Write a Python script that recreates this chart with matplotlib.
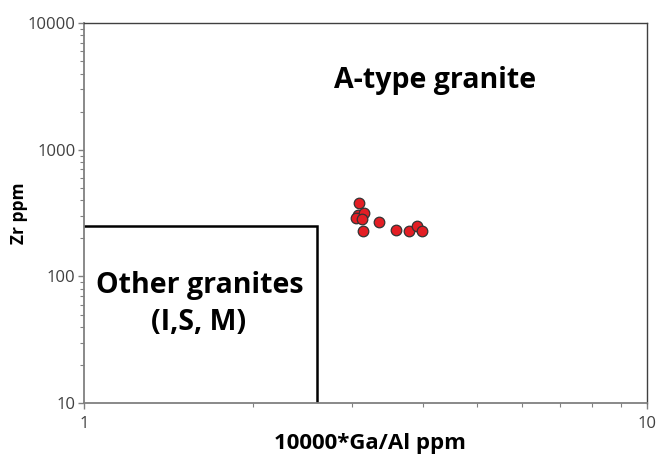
import matplotlib.pyplot as plt
from matplotlib.ticker import FixedLocator, LogLocator, NullFormatter

# Whalen et al. discrimination: 10000*Ga/Al vs Zr
GA_AL = [3.08, 3.07, 3.14, 3.05, 3.12, 3.13, 3.34, 3.58, 3.78, 3.91, 3.99]
ZR = [381, 305, 315, 290, 284, 228, 270, 232, 228, 251, 228]

BOX_GA_AL = 2.6
BOX_ZR = 250

X_TICKS = [1, 10]
X_LABELS = ["1", "10"]
Y_TICKS = [10, 100, 1000, 10000]
Y_LABELS = ["10", "100", "1000", "10000"]

AXIS_GREY = "#808080"
TEXT_GREY = "#404040"
FONT = ["Open Sans", "DejaVu Sans"]

fig = plt.figure(figsize=(6.6, 4.55), dpi=100)
ax = fig.add_axes([0.127, 0.114, 0.853, 0.835])

ax.set_xscale("log")
ax.set_yscale("log")
ax.set_xlim(1, 10)
ax.set_ylim(10, 10000)

# field boundary
ax.plot([1, BOX_GA_AL, BOX_GA_AL], [BOX_ZR, BOX_ZR, 10], color="black", lw=1.8,
        solid_joinstyle="miter", zorder=2)

ax.scatter(GA_AL, ZR, s=58, color="#e31e24", edgecolor="#333333", linewidth=0.9,
           zorder=3)

# field names, placed by baseline
ax.text(4.21, 3070, "A-type granite", ha="center", va="baseline",
        fontsize=20.5, fontweight="bold", family=FONT)
ax.text(1.61, 74, "Other granites", ha="center", va="baseline",
        fontsize=20.5, fontweight="bold", family=FONT)
ax.text(1.60, 37.7, "(I,S, M)", ha="center", va="baseline",
        fontsize=20.5, fontweight="bold", family=FONT)

ax.xaxis.set_major_locator(FixedLocator(X_TICKS))
ax.set_xticklabels(X_LABELS)
ax.yaxis.set_major_locator(FixedLocator(Y_TICKS))
ax.set_yticklabels(Y_LABELS)
ax.xaxis.set_minor_locator(LogLocator(base=10, subs=range(2, 10)))
ax.yaxis.set_minor_locator(LogLocator(base=10, subs=range(2, 10)))
ax.xaxis.set_minor_formatter(NullFormatter())
ax.yaxis.set_minor_formatter(NullFormatter())

ax.tick_params(which="major", direction="out", length=4, width=1, color=AXIS_GREY,
               labelcolor=TEXT_GREY, labelsize=12, pad=2)
ax.tick_params(axis="x", which="major", pad=5)
ax.tick_params(which="minor", direction="out", length=3, width=0.8, color=AXIS_GREY)
for lab in ax.get_xticklabels() + ax.get_yticklabels():
    lab.set_family(FONT)

for side in ("left", "bottom"):
    ax.spines[side].set_color(AXIS_GREY)
    ax.spines[side].set_linewidth(1.3)
for side in ("top", "right"):
    ax.spines[side].set_color("#404040")
    ax.spines[side].set_linewidth(1.0)

ax.set_xlabel("10000*Ga/Al ppm", fontsize=16, fontweight="bold", family=FONT)
ax.xaxis.label.set_va("baseline")
ax.xaxis.set_label_coords(0.509, -0.121)
ax.set_ylabel("Zr ppm", fontsize=12.5, fontweight="bold", family=FONT)
ax.yaxis.set_label_coords(-0.099, 0.501)

fig.savefig("out.png", dpi=100)
